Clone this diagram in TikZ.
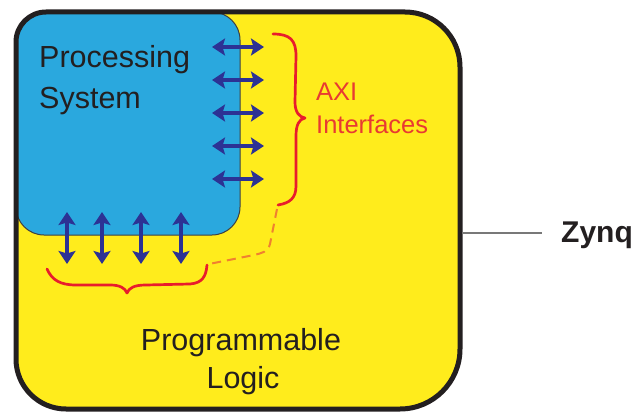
\documentclass[tikz,border=0pt]{standalone}
\usepackage{fontspec}
\setmainfont{Liberation Sans}
\usetikzlibrary{arrows.meta}
\definecolor{plyellow}{RGB}{255,236,28}
\definecolor{psblue}{RGB}{42,168,222}
\definecolor{axinavy}{RGB}{44,50,148}
\definecolor{bracered}{RGB}{232,28,44}
\definecolor{labelred}{RGB}{232,58,50}
\definecolor{dashorange}{RGB}{240,128,48}
\definecolor{leadgray}{RGB}{120,120,120}
\definecolor{inkblack}{RGB}{35,31,32}
\tikzset{
  axiarrow/.style={draw=axinavy, line width=4.4pt,
    {Stealth[length=13pt,width=17pt,inset=2.5pt]}-{Stealth[length=13pt,width=17pt,inset=2.5pt]}},
  bracepath/.style={draw=bracered, line width=2.7pt, line cap=round, line join=round},
  bigtext/.style={inner sep=0pt, text=inkblack, font=\fontsize{30.5}{36}\selectfont},
  axitext/.style={inner sep=0pt, text=labelred, font=\fontsize{25.5}{30}\selectfont},
}
\begin{document}
\begin{tikzpicture}[x=1pt,y=-1pt]
\useasboundingbox (0,0) rectangle (635,412);

% Programmable logic body
\fill[plyellow] (16,200) [rounded corners=30] |- (200,12)
  [rounded corners=55] -| (460,200)
  [rounded corners=60] |- (200,409)
  [rounded corners=50] -| cycle;

% Processing system block
\path[fill=psblue, draw=black!75, line width=1pt] (16,120) [rounded corners=30] |- (120,12)
  [rounded corners=28] -| (240,120) |- (120,235) -| cycle;

% Outer Zynq outline
\draw[line width=5pt, inkblack] (16,200) [rounded corners=30] |- (200,12)
  [rounded corners=55] -| (460,200)
  [rounded corners=60] |- (200,409)
  [rounded corners=50] -| cycle;

% AXI ports on the right side
\foreach \i/\y in {1/47,2/80,3/113,4/146,5/179}{
  \coordinate (ra\i) at (212,\y);
  \coordinate (rb\i) at (264,\y);
  \draw[axiarrow] (ra\i) -- (rb\i);
}
% AXI ports on the bottom side
\foreach \i/\x in {1/67,2/102,3/141,4/181}{
  \coordinate (ba\i) at (\x,212);
  \coordinate (bb\i) at (\x,264);
  \draw[axiarrow] (ba\i) -- (bb\i);
}

% Braces grouping the ports
\coordinate (rbtop) at (273,34);
\coordinate (rbtip) at (305,118);
\coordinate (rbbot) at (278,205);
\draw[bracepath] (rbtop) .. controls (290,34) and (296,40) .. (296,56)
  -- (295,102) .. controls (295,112) and (299,117) .. (rbtip)
  .. controls (299,119) and (296,125) .. (296,136)
  -- (296,186) .. controls (296,198) and (290,203) .. (rbbot);

\coordinate (bbleft) at (47,269);
\coordinate (bbtip) at (127,293);
\coordinate (bbright) at (207,265);
\draw[bracepath] (bbleft) .. controls (52,280) and (60,285) .. (76,285)
  -- (110,285) .. controls (120,285) and (125,288) .. (bbtip)
  .. controls (129,288) and (134,285) .. (146,285)
  -- (190,284) .. controls (202,283) and (206,277) .. (bbright);

% Dashed link between the two groups
\draw[dashorange, line width=2pt, dash pattern=on 9pt off 6pt]
  (277,209) -- (270,244) .. controls (268,252) and (262,253) .. (254,255) -- (209,264);

% Labels
\node[bigtext, anchor=base west] (ps1) at (39,68) {Processing};
\node[bigtext, anchor=base west] (ps2) at (39,108) {System};
\node[axitext, anchor=base west] (axi1) at (316,100) {AXI};
\node[axitext, anchor=base west] (axi2) at (316,133) {Interfaces};
\node[bigtext, anchor=base] (pl1) at (241,350) {Programmable};
\node[bigtext, anchor=base] (pl2) at (243,388) {Logic};

% Device label with leader
\coordinate (zedge) at (462,233);
\coordinate (zlead) at (542,233);
\draw[leadgray, line width=2pt] (zedge) -- (zlead);
\node[bigtext, font=\fontsize{30}{36}\selectfont\bfseries, anchor=base west] (zynq) at (561,242) {Zynq};
\end{tikzpicture}
\end{document}
